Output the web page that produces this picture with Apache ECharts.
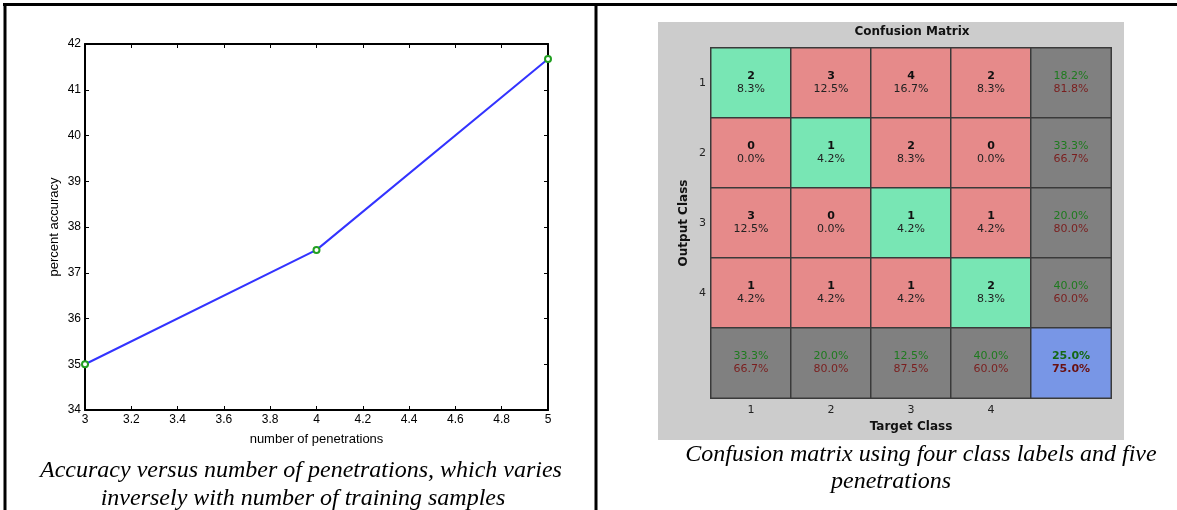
<!DOCTYPE html>
<html>
<head>
<meta charset="utf-8">
<title>Accuracy and confusion matrix</title>
<script src="https://cdn.jsdelivr.net/npm/echarts@6/dist/echarts.min.js"></script>
<style>
    html, body { margin: 0; padding: 0; background: #fff; }
    #main { width: 1177px; height: 510px; }
</style>
</head>
<body>
<div id="main"></div>
<script>
// left plot: accuracy vs penetrations
const penetrations = [3, 4, 5];
const accuracy = [35, 37.5, 41.67];

// right plot: confusion matrix (rows = output class, cols = target class)
const targetClasses = ['1', '2', '3', '4', ''];
const outputClasses = ['1', '2', '3', '4', ''];
const counts = [
    [2, 3, 4, 2],
    [0, 1, 2, 0],
    [3, 0, 1, 1],
    [1, 1, 1, 2]
];
const cellPercents = [
    ['8.3%', '12.5%', '16.7%', '8.3%'],
    ['0.0%', '4.2%', '8.3%', '0.0%'],
    ['12.5%', '0.0%', '4.2%', '4.2%'],
    ['4.2%', '4.2%', '4.2%', '8.3%']
];
const rowCorrect = ['18.2%', '33.3%', '20.0%', '40.0%'];
const rowWrong = ['81.8%', '66.7%', '80.0%', '60.0%'];
const colCorrect = ['33.3%', '20.0%', '12.5%', '40.0%'];
const colWrong = ['66.7%', '80.0%', '87.5%', '60.0%'];
const overallCorrect = '25.0%';
const overallWrong = '75.0%';

const GREEN = '#78e6b4';
const RED = '#e68a8a';
const GRAY = '#808080';
const BLUE = '#7896e6';

const chart = echarts.init(document.getElementById('main'));

// build heatmap cells
const cells = [];
for (let r = 0; r < 4; r++) {
    for (let c = 0; c < 4; c++) {
        cells.push({
            value: [c, r, counts[r][c]],
            itemStyle: { color: r === c ? GREEN : RED },
            label: { formatter: '{b|' + counts[r][c] + '}\n{p|' + cellPercents[r][c] + '}' }
        });
    }
    cells.push({
        value: [4, r, 0],
        itemStyle: { color: GRAY },
        label: { formatter: '{g|' + rowCorrect[r] + '}\n{r|' + rowWrong[r] + '}' }
    });
}
for (let c = 0; c < 4; c++) {
    cells.push({
        value: [c, 4, 0],
        itemStyle: { color: GRAY },
        label: { formatter: '{g|' + colCorrect[c] + '}\n{r|' + colWrong[c] + '}' }
    });
}
cells.push({
    value: [4, 4, 0],
    itemStyle: { color: BLUE },
    label: { formatter: '{gb|' + overallCorrect + '}\n{rb|' + overallWrong + '}' }
});

const tickFont = { fontFamily: 'Liberation Sans', fontSize: 12, color: '#000' };
const cmFont = 'DejaVu Sans';
const captionStyle = { fontFamily: 'Liberation Serif', fontStyle: 'italic', fontSize: 24, fill: '#000', align: 'center', verticalAlign: 'middle' };

const option = {
    animation: false,
    backgroundColor: '#fff',
    grid: [
        { left: 85, top: 44, width: 463, height: 366 },
        { left: 711, top: 48, width: 400, height: 350 }
    ],
    xAxis: [
        {
            gridIndex: 0, type: 'value', min: 3, max: 5, interval: 0.2,
            name: 'number of penetrations', nameLocation: 'middle', nameGap: 23,
            nameTextStyle: { fontFamily: 'Liberation Sans', fontSize: 13, color: '#000' },
            axisLine: { onZero: false, lineStyle: { color: '#000', width: 2 } },
            axisTick: { inside: true, length: 4, lineStyle: { color: '#000' } },
            axisLabel: Object.assign({ margin: 4, formatter: v => String(Math.round(v * 10) / 10) }, tickFont),
            splitLine: { show: false }
        },
        {
            gridIndex: 0, type: 'value', min: 3, max: 5, interval: 0.2, position: 'top',
            axisLine: { onZero: false, lineStyle: { color: '#000', width: 2 } },
            axisTick: { inside: true, length: 4, lineStyle: { color: '#000' } },
            axisLabel: { show: false },
            splitLine: { show: false }
        },
        {
            gridIndex: 1, type: 'category', data: targetClasses,
            name: 'Target Class', nameLocation: 'middle', nameGap: 19,
            nameTextStyle: { fontFamily: cmFont, fontSize: 12, fontWeight: 'bold', color: '#111' },
            axisLine: { show: false },
            axisTick: { show: false },
            axisLabel: { margin: 7, fontFamily: cmFont, fontSize: 11, color: '#222' },
            splitLine: { show: false }
        }
    ],
    yAxis: [
        {
            gridIndex: 0, type: 'value', min: 34, max: 42, interval: 1,
            name: 'percent accuracy', nameLocation: 'middle', nameGap: 24,
            nameTextStyle: { fontFamily: 'Liberation Sans', fontSize: 13, color: '#000' },
            axisLine: { onZero: false, lineStyle: { color: '#000', width: 2 } },
            axisTick: { inside: true, length: 4, lineStyle: { color: '#000' } },
            axisLabel: Object.assign({ margin: 4 }, tickFont),
            splitLine: { show: false }
        },
        {
            gridIndex: 0, type: 'value', min: 34, max: 42, interval: 1, position: 'right',
            axisLine: { onZero: false, lineStyle: { color: '#000', width: 2 } },
            axisTick: { inside: true, length: 4, lineStyle: { color: '#000' } },
            axisLabel: { show: false },
            splitLine: { show: false }
        },
        {
            gridIndex: 1, type: 'category', data: outputClasses, inverse: true,
            name: 'Output Class', nameLocation: 'middle', nameGap: 21,
            nameTextStyle: { fontFamily: cmFont, fontSize: 12, fontWeight: 'bold', color: '#111' },
            axisLine: { show: false },
            axisTick: { show: false },
            axisLabel: { margin: 5, fontFamily: cmFont, fontSize: 11, color: '#222' },
            splitLine: { show: false }
        }
    ],
    graphic: [
        // table rules around the two figures
        { type: 'line', shape: { x1: 3, y1: 4.5, x2: 1177, y2: 4.5 }, style: { stroke: '#000', lineWidth: 3 } },
        { type: 'line', shape: { x1: 5, y1: 3, x2: 5, y2: 510 }, style: { stroke: '#000', lineWidth: 3 } },
        { type: 'line', shape: { x1: 596, y1: 3, x2: 596, y2: 510 }, style: { stroke: '#000', lineWidth: 3 } },
        // grey figure panel behind the matrix
        { type: 'rect', z: -10, shape: { x: 658, y: 22, width: 466, height: 418 }, style: { fill: '#cccccc' } },
        {
            type: 'text', x: 912, y: 32,
            style: { text: 'Confusion Matrix', fontFamily: cmFont, fontSize: 12, fontWeight: 'bold', fill: '#111', align: 'center', verticalAlign: 'middle' }
        },
        { type: 'text', x: 301, y: 471, style: Object.assign({ text: 'Accuracy versus number of penetrations, which varies' }, captionStyle) },
        { type: 'text', x: 303, y: 499, style: Object.assign({ text: 'inversely with number of training samples' }, captionStyle) },
        { type: 'text', x: 921, y: 455, style: Object.assign({ text: 'Confusion matrix using four class labels and five' }, captionStyle) },
        { type: 'text', x: 891, y: 482, style: Object.assign({ text: 'penetrations' }, captionStyle) }
    ],
    series: [
        {
            type: 'line',
            xAxisIndex: 0, yAxisIndex: 0,
            data: penetrations.map((p, i) => [p, accuracy[i]]),
            clip: false,
            symbol: 'emptyCircle',
            symbolSize: 6,
            lineStyle: { color: '#3333ff', width: 2 },
            itemStyle: { color: '#22a022', borderColor: '#22a022', borderWidth: 1.5 }
        },
        {
            type: 'heatmap',
            xAxisIndex: 2, yAxisIndex: 2,
            data: cells,
            itemStyle: { borderColor: '#3a3a3a', borderWidth: 1.5 },
            label: {
                show: true,
                lineHeight: 13,
                rich: {
                    b: { fontFamily: cmFont, fontSize: 11, fontWeight: 'bold', color: '#111', lineHeight: 13 },
                    p: { fontFamily: cmFont, fontSize: 11, color: '#222', lineHeight: 13 },
                    g: { fontFamily: cmFont, fontSize: 11, color: '#1e7a1e', lineHeight: 13 },
                    r: { fontFamily: cmFont, fontSize: 11, color: '#7a1e1e', lineHeight: 13 },
                    gb: { fontFamily: cmFont, fontSize: 11, fontWeight: 'bold', color: '#146814', lineHeight: 13 },
                    rb: { fontFamily: cmFont, fontSize: 11, fontWeight: 'bold', color: '#6a1010', lineHeight: 13 }
                }
            },
            emphasis: { disabled: true }
        }
    ]
};

chart.setOption(option);
</script>
</body>
</html>
